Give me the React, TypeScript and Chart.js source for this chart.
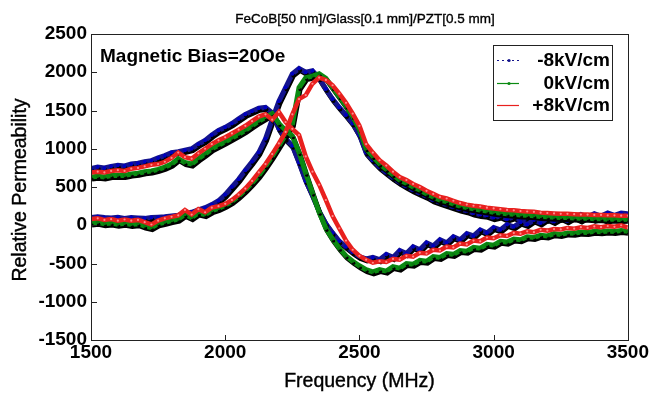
import React, { useEffect, useRef } from 'react';
import { Chart, registerables } from 'chart.js';
Chart.register(...registerables);

// Frequency axis (MHz)
const freqMHz = [
  1500, 1525, 1550, 1575, 1600, 1625, 1650, 1675,
  1700, 1725, 1750, 1775, 1800, 1825, 1850, 1875,
  1900, 1925, 1950, 1975, 2000, 2025, 2050, 2075,
  2100, 2125, 2150, 2175, 2200, 2225, 2250, 2275,
  2300, 2325, 2350, 2375, 2400, 2425, 2450, 2475,
  2500, 2525, 2550, 2575, 2600, 2625, 2650, 2675,
  2700, 2725, 2750, 2775, 2800, 2825, 2850, 2875,
  2900, 2925, 2950, 2975, 3000, 3025, 3050, 3075,
  3100, 3125, 3150, 3175, 3200, 3225, 3250, 3275,
  3300, 3325, 3350, 3375, 3400, 3425, 3450, 3475,
  3500,
];

// -8 kV/cm : real and imaginary permeability
const realNeg8 = [
  740, 760, 750, 770, 785, 775, 800, 810,
  830, 845, 880, 910, 950, 960, 980, 1000,
  1060, 1110, 1180, 1240, 1280, 1330, 1390, 1450,
  1490, 1530, 1540, 1470, 1260, 1130, 1040, 820,
  580, 390, 180, 20, -100, -210, -280, -350,
  -410, -440, -420, -450, -380, -420, -330, -370,
  -280, -320, -230, -270, -190, -230, -150, -190,
  -110, -140, -60, -100, -30, -60, 10, -20,
  40, 10, 70, 30, 90, 50, 100, 60,
  110, 70, 120, 80, 100, 60, 120, 80,
  110,
];
const imagNeg8 = [
  100, 110, 100, 95, 105, 90, 100, 95,
  90, 100, 105, 110, 120, 130, 150, 170,
  200, 230, 270, 320, 400, 500, 600, 720,
  830, 950, 1130, 1380, 1620, 1800, 1980, 2050,
  2000, 2020, 1920, 1780, 1650, 1540, 1440, 1330,
  1180, 950, 850, 760, 690, 620, 560, 510,
  460, 420, 380, 330, 300, 270, 240, 210,
  190, 160, 140, 130, 100, 120, 80, 110,
  70, 100, 70, 110, 80, 120, 90, 130,
  100, 140, 110, 150, 120, 160, 130, 160,
  150,
];

// 0 kV/cm
const realZero = [
  630, 640, 630, 650, 655, 650, 670, 680,
  700, 710, 730, 760, 800, 870, 820, 800,
  870, 930, 1000, 1045, 1090, 1140, 1190, 1240,
  1300, 1360, 1410, 1460, 1330, 1240, 1170, 950,
  680, 420, 170, -40, -180, -300, -400, -470,
  -530, -580, -610, -580, -600, -540, -560, -500,
  -510, -460, -470, -410, -420, -370, -380, -330,
  -340, -290, -300, -250, -260, -210, -220, -180,
  -190, -150, -160, -130, -140, -110, -120, -100,
  -105, -90, -95, -80, -85, -75, -80, -70,
  -80,
];
const imagZero = [
  30, 40, 20, 30, 15, 25, 10, 20,
  -10, -30, 20, 40, 60, 80, 140, 100,
  160, 140, 190, 220, 260, 310, 380, 460,
  550, 650, 770, 900, 1040, 1180, 1320, 1800,
  1930, 1950, 1980, 1920, 1800, 1680, 1560, 1420,
  1250, 1000, 900, 800, 730, 660, 590, 550,
  500, 460, 410, 370, 330, 310, 280, 250,
  230, 215, 200, 185, 170, 160, 150, 145,
  135, 130, 125, 115, 110, 105, 100, 100,
  95, 90, 90, 85, 85, 80, 80, 75,
  80,
];

// +8 kV/cm
const realPos8 = [
  690, 700, 690, 710, 720, 710, 740, 750,
  770, 790, 800, 830, 880, 950, 890, 870,
  940, 1000, 1060, 1110, 1150, 1200, 1250, 1300,
  1360, 1420, 1450, 1380, 1480, 1350, 1260, 1180,
  900, 700, 530, 330, 120, -40, -200, -320,
  -400, -450, -490, -470, -480, -440, -450, -400,
  -410, -360, -370, -320, -330, -280, -290, -240,
  -250, -200, -210, -160, -170, -130, -140, -100,
  -110, -80, -90, -60, -70, -50, -55, -35,
  -45, -25, -35, -15, -25, -10, -20, 0,
  -30,
];
const imagPos8 = [
  80, 90, 70, 80, 60, 75, 60, 70,
  40, 10, 60, 90, 110, 130, 200, 140,
  210, 170, 230, 250, 280, 330, 400, 480,
  580, 690, 800, 930, 1070, 1220, 1450, 1650,
  1700, 1850, 1930, 1900, 1830, 1720, 1600, 1460,
  1300, 1060, 950, 850, 780, 700, 630, 590,
  540, 500, 450, 410, 370, 350, 320, 290,
  270, 255, 245, 230, 220, 210, 200, 195,
  185, 180, 175, 165, 160, 155, 150, 150,
  145, 140, 140, 135, 135, 130, 130, 125,
  125,
];

const legendLabels = ['-8kV/cm', '0kV/cm', '+8kV/cm'];
const chartTitle = 'FeCoB[50 nm]/Glass[0.1 mm]/PZT[0.5 mm]';
const noteText = 'Magnetic Bias=20Oe';
const xTitle = 'Frequency (MHz)';
const yTitle = 'Relative Permeability';

const BLUE = '#14148c';
const GREEN = '#0b8a12';
const RED = '#e8201e';
const FONT = '"Liberation Sans", Arial, sans-serif';

export default function App() {
  const ref = useRef<HTMLCanvasElement>(null);

  useEffect(() => {
    const canvas = ref.current;
    if (!canvas) return;
    const pts = (ys: number[]) => freqMHz.map((f, i) => ({ x: f, y: ys[i] }));

    const shadowPlugin = {
      id: 'bandShadow',
      beforeDatasetDraw(chart: any, args: any) {
        const ds = chart.data.datasets[args.index];
        chart.ctx.save();
        if (ds.shadowCol) {
          chart.ctx.shadowColor = ds.shadowCol;
          chart.ctx.shadowOffsetX = 1;
          chart.ctx.shadowOffsetY = 2;
          chart.ctx.shadowBlur = 0;
        }
      },
      afterDatasetDraw(chart: any) {
        chart.ctx.restore();
      },
    };

    const framePlugin = {
      id: 'frame',
      afterDraw(chart: any) {
        const { ctx, chartArea: a, scales } = chart;
        const xs = scales.x;
        const ys = scales.y;
        ctx.save();
        ctx.strokeStyle = '#222';
        ctx.lineWidth = 1;
        ctx.strokeRect(Math.round(a.left) + 0.5, Math.round(a.top) + 0.5, Math.round(a.right - a.left), Math.round(a.bottom - a.top));
        // inward ticks
        ctx.beginPath();
        xs.ticks.forEach((t: any) => {
          const px = Math.round(xs.getPixelForValue(t.value)) + 0.5;
          ctx.moveTo(px, a.bottom);
          ctx.lineTo(px, a.bottom - 5);
        });
        ys.ticks.forEach((t: any) => {
          const py = Math.round(ys.getPixelForValue(t.value)) + 0.5;
          ctx.moveTo(a.left, py);
          ctx.lineTo(a.left + 6, py);
        });
        ctx.stroke();

        ctx.fillStyle = '#000';
        ctx.strokeStyle = '#000';
        // title
        ctx.font = `13.5px ${FONT}`;
        ctx.textAlign = 'center';
        ctx.textBaseline = 'alphabetic';
        ctx.fillText(chartTitle, 365, 23);
        ctx.lineWidth = 0.35;
        ctx.strokeText(chartTitle, 365, 23);
        // note
        ctx.font = `bold 19px ${FONT}`;
        ctx.textAlign = 'left';
        ctx.fillText(noteText, 100, 62);
        // axis titles
        ctx.font = `19.5px ${FONT}`;
        ctx.textAlign = 'center';
        ctx.textBaseline = 'middle';
        ctx.lineWidth = 0.4;
        const xcx = (a.left + a.right) / 2;
        ctx.fillText(xTitle, xcx, 382);
        ctx.strokeText(xTitle, xcx, 382);
        ctx.save();
        ctx.translate(21, (a.top + a.bottom) / 2 + 3);
        ctx.rotate(-Math.PI / 2);
        ctx.fillText(yTitle, 0, 0);
        ctx.strokeText(yTitle, 0, 0);
        ctx.restore();

        // legend
        const lx = 493.5, ly = 45.5, lw = 119, lh = 75;
        ctx.fillStyle = '#fff';
        ctx.fillRect(lx, ly, lw, lh);
        ctx.strokeStyle = '#222';
        ctx.lineWidth = 1;
        ctx.strokeRect(lx, ly, lw, lh);
        const rows = [60, 83, 105];
        const cols = [BLUE, GREEN, RED];
        rows.forEach((ry, i) => {
          ctx.strokeStyle = cols[i];
          ctx.lineWidth = 1.2;
          if (i === 0) ctx.setLineDash([2, 3]);
          else ctx.setLineDash([]);
          ctx.beginPath();
          ctx.moveTo(497, ry + 0.5);
          ctx.lineTo(519, ry + 0.5);
          ctx.stroke();
          ctx.setLineDash([]);
          if (i < 2) {
            ctx.fillStyle = cols[i];
            ctx.beginPath();
            ctx.arc(509, ry + 0.5, 1.6, 0, Math.PI * 2);
            ctx.fill();
          }
          ctx.fillStyle = '#000';
          ctx.font = `bold 19px ${FONT}`;
          ctx.textAlign = 'right';
          ctx.textBaseline = 'middle';
          ctx.fillText(legendLabels[i], 610, ry + 1);
        });
        ctx.restore();
      },
    };

    const mk = (label: string, ys: number[], color: string, opts: any) => ({
      label,
      data: pts(ys),
      borderColor: color,
      backgroundColor: color,
      borderWidth: 4,
      pointRadius: 1.6,
      pointBorderWidth: 0,
      tension: 0,
      fill: false,
      ...opts,
    });

    const datasets = [
      mk('+8kV/cm real', realPos8, RED, { borderWidth: 4.5, pointRadius: 1.1, pointBackgroundColor: '#ff8a8a' }),
      mk('+8kV/cm imag', imagPos8, RED, { borderWidth: 4.5, pointRadius: 1.1, pointBackgroundColor: '#ff8a8a' }),
      mk('0kV/cm real', realZero, GREEN, { borderWidth: 5, pointBackgroundColor: '#0a7a10', shadowCol: '#000' }),
      mk('0kV/cm imag', imagZero, GREEN, { borderWidth: 5, pointBackgroundColor: '#0a7a10', shadowCol: '#000' }),
      mk('-8kV/cm real', realNeg8, BLUE, { borderWidth: 5, pointRadius: 2, pointBackgroundColor: '#0000c0', shadowCol: '#000' }),
      mk('-8kV/cm imag', imagNeg8, BLUE, { borderWidth: 5, pointRadius: 2, pointBackgroundColor: '#0000c0', shadowCol: '#000' }),
    ];

    const tickFont = { family: FONT, size: 19, weight: 'bold' as const };
    const plain = (v: any) => String(v);

    const chart = new Chart(canvas, {
      type: 'line',
      data: { datasets: datasets as any },
      options: {
        animation: false,
        responsive: false,
        devicePixelRatio: 1,
        layout: { padding: { top: 34, right: 22, left: 0, bottom: 0 } },
        plugins: { legend: { display: false }, tooltip: { enabled: false }, title: { display: false } },
        scales: {
          x: {
            type: 'linear',
            min: 1500,
            max: 3500,
            ticks: { stepSize: 500, font: tickFont, color: '#000', padding: 1, maxRotation: 0, autoSkip: false, callback: plain },
            grid: { display: false, drawTicks: false },
            border: { display: false },
            afterFit: (s: any) => { s.height = 58; },
          },
          y: {
            min: -1500,
            max: 2500,
            ticks: { stepSize: 500, font: tickFont, color: '#000', padding: 4, callback: plain },
            grid: { display: false, drawTicks: false },
            border: { display: false },
            afterFit: (s: any) => { s.width = 91; },
          },
        },
      },
      plugins: [shadowPlugin, framePlugin],
    });
    return () => chart.destroy();
  }, []);

  return (
    <div style={{ position: 'absolute', left: 0, top: 0, width: 650, height: 398, background: '#fff' }}>
      <canvas ref={ref} width={650} height={398} style={{ display: 'block' }} />
    </div>
  );
}
